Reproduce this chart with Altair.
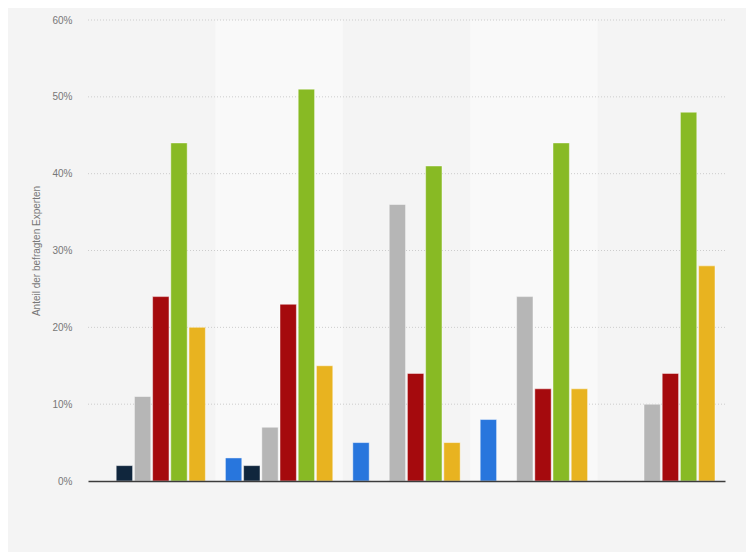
import altair as alt
import pandas as pd

groups = ["Gruppe 1", "Gruppe 2", "Gruppe 3", "Gruppe 4", "Gruppe 5"]
series = ["Blau", "Dunkelblau", "Grau", "Rot", "Grün", "Gelb"]
colors = ["#2876dd", "#10263d", "#b6b6b6", "#a50a0d", "#88ba24", "#e8b320"]
values = {
    "Blau":       [0, 3, 5, 8, 0],
    "Dunkelblau": [2, 2, 0, 0, 0],
    "Grau":       [11, 7, 36, 24, 10],
    "Rot":        [24, 23, 14, 12, 14],
    "Grün":       [44, 51, 41, 44, 48],
    "Gelb":       [20, 15, 5, 12, 28],
}
band_groups = ["Gruppe 2", "Gruppe 4"]
y_ticks = [0, 10, 20, 30, 40, 50, 60]

rows = []
for s, c in zip(series, colors):
    for g, v in zip(groups, values[s]):
        rows.append({"group": g, "series": s, "value": v, "color": c})
df = pd.DataFrame(rows)
bands = pd.DataFrame({"group": band_groups})
grid = pd.DataFrame({"tick": y_ticks[1:]})

xscale = alt.Scale(domain=groups, paddingInner=0, paddingOuter=0)
yscale = alt.Scale(domain=[0, 60], nice=False)
xaxis = alt.Axis(labels=False, ticks=False, title=None, domain=True,
                 domainColor="#3c3c3c", domainWidth=1.5, grid=False)

bg = alt.Chart(bands).mark_rect(strokeWidth=0, color="#f9f9f9").encode(
    x=alt.X("group:N", scale=xscale, axis=xaxis, sort=groups),
)

gridlines = alt.Chart(grid).mark_rule(color="#cccccc", strokeDash=[1, 2], strokeWidth=1).encode(
    y=alt.Y("tick:Q", scale=yscale),
)

bars = alt.Chart(df).mark_bar(stroke="#ffffff", strokeOpacity=0.45, strokeWidth=1).encode(
    x=alt.X("group:N", scale=xscale, axis=xaxis, sort=groups),
    xOffset=alt.XOffset("series:N", sort=series,
                        scale=alt.Scale(domain=series, paddingInner=0.1, paddingOuter=0.55)),
    y=alt.Y("value:Q", scale=yscale,
            axis=alt.Axis(values=y_ticks,
                          labelExpr="datum.value + '%'",
                          title="Anteil der befragten Experten",
                          titleFontSize=10, titleFontWeight="normal", titleColor="#777777",
                          titlePadding=10, labelFontSize=10, labelColor="#777777",
                          labelPadding=16, ticks=False, domain=False, grid=False)),
    color=alt.Color("color:N", scale=None),
)

chart = alt.layer(bg, gridlines, bars).properties(
    width=637, height=461,
    autosize=alt.AutoSizeParams(type="none"),
    padding={"left": 80, "top": 12, "right": 21, "bottom": 71},
    background="#f4f4f4",
).configure(
    font="Liberation Sans"
).configure_view(stroke="transparent", strokeWidth=0, fill="#f4f4f4")

chart.save("out.html", embed_options={"renderer": "svg", "actions": False})
